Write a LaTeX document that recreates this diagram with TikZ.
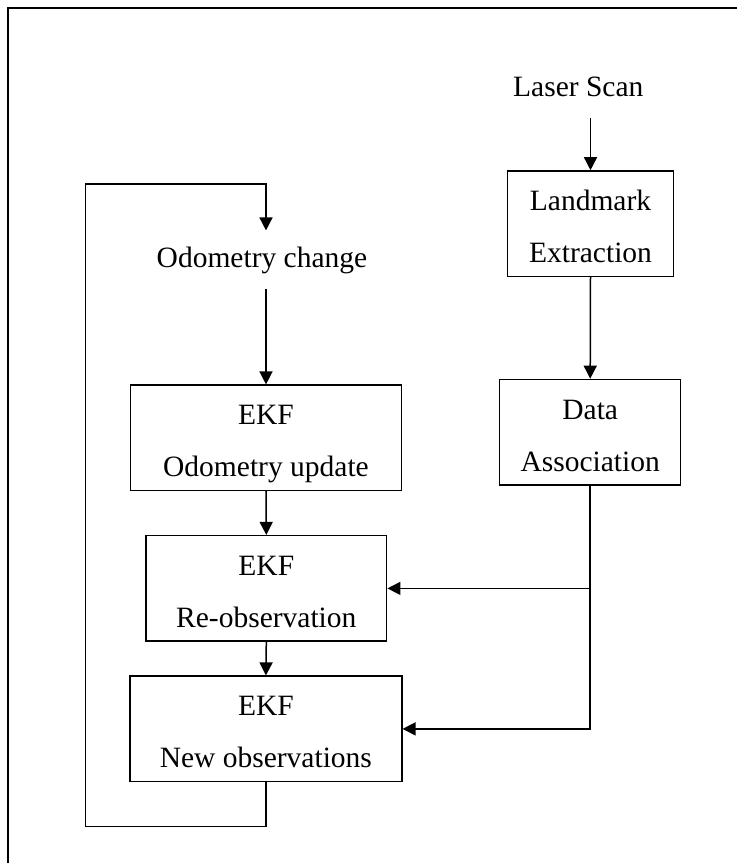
\documentclass[tikz,border=0pt]{standalone}
\usepackage{fontspec}
\setmainfont{Liberation Serif}
\usepackage{tikz}
\usetikzlibrary{arrows.meta, calc}
\def\scale{0.5}

\begin{document}
\begin{tikzpicture}[x=\scale pt, y=-\scale pt, line cap=rect,
			font=\fontsize{14.75}{26}\selectfont,
			frame/.style={line width=1pt},
			box/.style={draw, line width=0.75pt, align=center, minimum height=52.75pt,
				inner ysep=2pt, text height=40.5pt, text depth=1.5pt},
			lbl/.style={inner sep=8pt},
			arr/.style={line width=0.75pt, -{Triangle[length=6.5pt, width=6.5pt]}}
		]

	\useasboundingbox (0,0) rectangle (736,863);
	\draw[frame] (8.3,863) -- (8.3,8.3) -- (736,8.3);

	% right column
	\node[lbl, anchor=base, inner sep=10.8pt] (laser) at (578.3,96.7) {Laser Scan};
	\node[box, minimum width=82.8pt] (landmark) at (590.5,223.7) {Landmark\\Extraction};
	\node[box, minimum width=90.5pt] (data) at (590.2,432.2) {Data\\Association};

	% left column
	\node[lbl, anchor=base] (odochange) at (262,267.3) {Odometry change};
	\node[box, minimum width=135.7pt] (odoupdate) at (266,437.9) {EKF\\Odometry update};
	\node[box, minimum width=120.4pt] (reobs) at (266.3,588.4) {EKF\\Re-observation};
	\node[box, minimum width=135.9pt] (newobs) at (265.9,728.9) {EKF\\New observations};

	\coordinate (loopbot) at (85.7,826.7);
	\coordinate (looptop) at (85.7,184);

	\draw[arr] (landmark.north |- laser.south) -- (landmark.north);
	\draw[arr] (landmark.south) -- (data.north);
	\draw[arr] (data.south) |- (newobs.east);
	\draw[arr] (data.south |- reobs.east) -- (reobs.east);

	\draw[arr] (odoupdate.north |- odochange.south) -- (odoupdate.north);
	\draw[arr] (odoupdate.south) -- (reobs.north);
	\draw[arr] (reobs.south) -- (newobs.north);
	\draw[arr] (newobs.south) |- (loopbot) -- (looptop) -| (odochange.north -| odoupdate.north);

\end{tikzpicture}
\end{document}
